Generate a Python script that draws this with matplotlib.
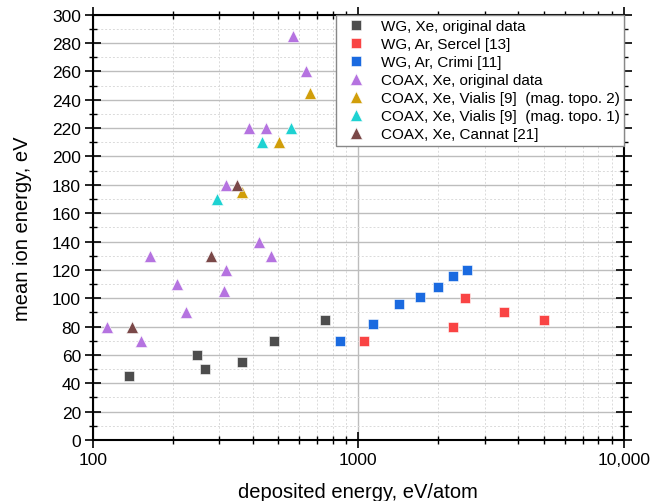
import numpy as np
import matplotlib
matplotlib.use('Agg')
import matplotlib.pyplot as plt
from matplotlib.ticker import FixedLocator, FuncFormatter, LogLocator, MultipleLocator

plt.rcParams['font.family'] = ['Liberation Sans', 'DejaVu Sans']

# data
wg_xe_x = [137, 247, 265, 366, 480, 747]
wg_xe_y = [45, 60, 50, 55, 70, 85]

wg_ar_sercel_x = [1053, 2265, 2528, 3533, 4988]
wg_ar_sercel_y = [70, 80, 100, 90, 85]

wg_ar_crimi_x = [855, 1138, 1426, 1706, 1995, 2271, 2557]
wg_ar_crimi_y = [70, 82, 96, 101, 108, 116, 120]

coax_xe_x = [569, 634, 388, 448, 318, 424, 165, 469, 318, 208, 311, 224, 113, 152]
coax_xe_y = [285, 260, 220, 220, 180, 140, 130, 130, 120, 110, 105, 90, 80, 70]

vialis2_x = [658, 503, 364]
vialis2_y = [245, 210, 175]

vialis1_x = [559, 434, 293]
vialis1_y = [220, 210, 170]

cannat_x = [348, 280, 140]
cannat_y = [180, 130, 80]

series = [
    (wg_xe_x, wg_xe_y, 's', '#4d4d4d', 'WG, Xe, original data'),
    (wg_ar_sercel_x, wg_ar_sercel_y, 's', '#f94444', 'WG, Ar, Sercel [13]'),
    (wg_ar_crimi_x, wg_ar_crimi_y, 's', '#1a6ae0', 'WG, Ar, Crimi [11]'),
    (coax_xe_x, coax_xe_y, '^', '#b573e0', 'COAX, Xe, original data'),
    (vialis2_x, vialis2_y, '^', '#d19e0a', 'COAX, Xe, Vialis [9]  (mag. topo. 2)'),
    (vialis1_x, vialis1_y, '^', '#1ed2d2', 'COAX, Xe, Vialis [9]  (mag. topo. 1)'),
    (cannat_x, cannat_y, '^', '#7a4848', 'COAX, Xe, Cannat [21]'),
]

fig = plt.figure(figsize=(6.64, 5.02), dpi=100)
ax = fig.add_axes([0.1396, 0.1215, 0.8002, 0.8472])

for x, y, m, c, lab in series:
    ms = 6.8 if m == 's' else 8.8
    ax.plot(x, y, linestyle='none', marker=m, markersize=ms, color=c,
            markeredgecolor='white', markeredgewidth=0.4, label=lab, zorder=3)

ax.set_xscale('log')
ax.set_xlim(100, 10000)
ax.set_ylim(0, 300)

ax.xaxis.set_major_locator(FixedLocator([100, 1000, 10000]))
ax.xaxis.set_minor_locator(LogLocator(base=10, subs=np.arange(2, 10)))
ax.xaxis.set_minor_formatter(FuncFormatter(lambda v, p: ''))
ax.xaxis.set_major_formatter(FuncFormatter(lambda v, p: '{:,.0f}'.format(v) if v >= 10000 else '{:.0f}'.format(v)))
ax.yaxis.set_major_locator(MultipleLocator(20))
ax.yaxis.set_minor_locator(MultipleLocator(10))

ax.grid(which='major', color='#bdbdbd', linewidth=1.0, zorder=0)
ax.grid(which='minor', color='#dadada', linewidth=0.7, linestyle=(0, (2, 2)), zorder=0)

ax.tick_params(which='major', direction='inout', length=11, width=1.2, labelsize=12.5,
               top=True, right=True, labeltop=False, labelright=False)
ax.tick_params(which='minor', direction='inout', length=6, width=1.0,
               top=True, right=True)
ax.tick_params(axis='x', which='major', pad=3)
ax.tick_params(axis='y', which='major', pad=3)
for s in ax.spines.values():
    s.set_linewidth(1.5)

ax.set_xlabel('deposited energy, eV/atom', fontsize=14.5, labelpad=11)
ax.set_ylabel('mean ion energy, eV', fontsize=14.5, labelpad=14)

leg = ax.legend(loc='upper right', fontsize=11, fancybox=False, frameon=True,
                borderaxespad=0, labelspacing=0.26, handletextpad=0.6,
                borderpad=0.3, edgecolor='#888888', framealpha=1, shadow=False)
leg.get_frame().set_linewidth(1.0)

plt.savefig('out.png', dpi=100)
